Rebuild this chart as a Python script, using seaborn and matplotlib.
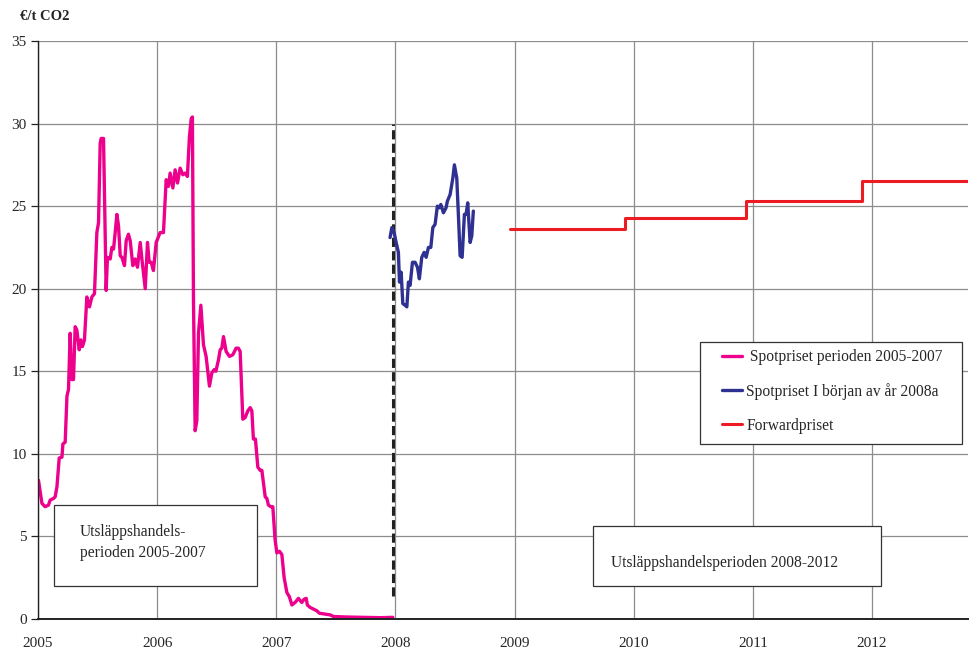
import matplotlib
matplotlib.use("Agg")
import matplotlib.pyplot as plt
from matplotlib.patches import Rectangle
import pandas as pd
import seaborn as sns

# Spot price 2005-2007 (decimal year, EUR/t)
pink_t = [2005.004, 2005.033, 2005.060, 2005.088, 2005.102, 2005.130, 2005.144, 2005.159,
          2005.178, 2005.201, 2005.209, 2005.228, 2005.243, 2005.256, 2005.270, 2005.284,
          2005.298, 2005.312, 2005.326, 2005.346, 2005.360, 2005.373, 2005.390, 2005.410,
          2005.432, 2005.452, 2005.474, 2005.494, 2005.508, 2005.522, 2005.530, 2005.550,
          2005.572, 2005.583, 2005.606, 2005.620, 2005.634, 2005.648, 2005.662, 2005.676,
          2005.690, 2005.704, 2005.726, 2005.740, 2005.759, 2005.774, 2005.796, 2005.816,
          2005.835, 2005.858, 2005.872, 2005.900, 2005.919, 2005.933, 2005.950, 2005.969,
          2005.992, 2006.025, 2006.053, 2006.076, 2006.095, 2006.109, 2006.132, 2006.151,
          2006.171, 2006.193, 2006.216, 2006.235, 2006.254, 2006.271, 2006.286, 2006.296,
          2006.305, 2006.319, 2006.333, 2006.347, 2006.367, 2006.389, 2006.411, 2006.439,
          2006.459, 2006.479, 2006.493, 2006.515, 2006.529, 2006.543, 2006.557, 2006.579,
          2006.607, 2006.635, 2006.663, 2006.682, 2006.697, 2006.719, 2006.739, 2006.761,
          2006.781, 2006.795, 2006.808, 2006.825, 2006.845, 2006.865, 2006.879, 2006.907,
          2006.921, 2006.934, 2006.954, 2006.971, 2006.990, 2007.005, 2007.027, 2007.047,
          2007.066, 2007.089, 2007.110, 2007.131, 2007.158, 2007.186, 2007.214, 2007.234,
          2007.251, 2007.261, 2007.284, 2007.312, 2007.340, 2007.362, 2007.410, 2007.452,
          2007.480, 2007.592, 2007.731, 2007.872, 2007.978]
pink_v = [8.4, 7.0, 6.8, 6.9, 7.2, 7.3, 7.4, 8.0,
          9.75, 9.8, 10.6, 10.7, 13.5, 13.9, 17.3, 14.5,
          14.5, 17.7, 17.5, 16.3, 16.9, 16.5, 16.9, 19.5,
          18.9, 19.5, 19.7, 23.4, 24.0, 28.8, 29.1, 29.1,
          19.9, 21.9, 21.8, 22.5, 22.4, 23.4, 24.5, 23.8,
          22.0, 21.9, 21.4, 22.9, 23.3, 22.9, 21.4, 21.8,
          21.3, 22.8, 21.8, 20.0, 22.8, 21.6, 21.6, 21.1,
          22.8, 23.4, 23.4, 26.6, 26.2, 27.0, 26.1, 27.2,
          26.4, 27.3, 26.9, 27.0, 26.8, 29.2, 30.3, 30.4,
          19.3, 11.4, 12.0, 17.3, 19.0, 16.6, 15.9, 14.1,
          14.9, 15.1, 15.0, 15.7, 16.3, 16.4, 17.1, 16.2,
          15.9, 16.0, 16.4, 16.4, 16.2, 12.1, 12.2, 12.6,
          12.8, 12.6, 10.9, 10.9, 9.2, 9.0, 9.0, 7.4,
          7.3, 6.9, 6.8, 6.8, 4.8, 4.0, 4.1, 3.9,
          2.5, 1.6, 1.35, 0.85, 1.0, 1.25, 1.0, 1.2,
          1.25, 0.85, 0.7, 0.6, 0.5, 0.35, 0.3, 0.25,
          0.15, 0.12, 0.1, 0.08, 0.1]

# Spot price early 2008
blue_t = [2007.955, 2007.970, 2007.989, 2008.006, 2008.025, 2008.034, 2008.048, 2008.062,
          2008.081, 2008.096, 2008.109, 2008.123, 2008.143, 2008.165, 2008.185, 2008.201,
          2008.221, 2008.241, 2008.258, 2008.277, 2008.297, 2008.314, 2008.333, 2008.352,
          2008.369, 2008.381, 2008.403, 2008.425, 2008.436, 2008.459, 2008.482, 2008.495,
          2008.515, 2008.529, 2008.543, 2008.560, 2008.579, 2008.593, 2008.607, 2008.627,
          2008.641, 2008.654]
blue_v = [23.1, 23.7, 23.4, 22.8, 22.2, 20.4, 21.0, 19.1,
          19.0, 18.9, 20.4, 20.2, 21.6, 21.6, 21.3, 20.6,
          21.9, 22.2, 21.9, 22.5, 22.5, 23.7, 23.9, 25.0,
          24.9, 25.1, 24.6, 24.9, 25.3, 25.7, 26.7, 27.5,
          26.7, 24.4, 22.0, 21.9, 24.5, 24.5, 25.2, 22.8,
          23.2, 24.7]

# Forward price (steps)
red_t = [2008.962, 2009.927, 2010.943, 2011.916, 2012.806]
red_v = [23.6, 24.3, 25.3, 26.5, 26.5]

# Period divider
divider_t = [2007.98, 2007.98]
divider_v = [1.4, 30.0]

years = [2005, 2006, 2007, 2008, 2009, 2010, 2011, 2012]
y_ticks = [0, 5, 10, 15, 20, 25, 30, 35]

labels = [" Spotpriset perioden 2005-2007", "Spotpriset I början av år 2008a", "Forwardpriset"]
colors = ["#EC008C", "#2E3192", "#ED1C24"]

sns.set_style("white")
plt.rcParams["font.family"] = ["Liberation Serif", "DejaVu Serif"]

fig = plt.figure(figsize=(9.69, 6.52), dpi=100)
ax = fig.add_axes([38 / 969, 1 - 619 / 652, 930 / 969, 578 / 652])

pink = pd.DataFrame({"t": pink_t, "v": pink_v})
blue = pd.DataFrame({"t": blue_t, "v": blue_v})
red = pd.DataFrame({"t": red_t, "v": red_v})

sns.lineplot(data=pink, x="t", y="v", ax=ax, color=colors[0], lw=2.4,
             estimator=None, sort=False, label=labels[0])
sns.lineplot(data=blue, x="t", y="v", ax=ax, color=colors[1], lw=2.4,
             estimator=None, sort=False, label=labels[1])
sns.lineplot(data=red, x="t", y="v", ax=ax, color=colors[2], lw=2.2,
             estimator=None, sort=False, drawstyle="steps-post", label=labels[2])
ax.plot(divider_t, divider_v, color="#222222", lw=2.2, ls=(0, (3.0, 1.4)), zorder=1)

ax.set_xlim(2005, 2012.806)
ax.set_ylim(0, 35)
ax.set_xticks(years)
ax.set_xticklabels([str(y) for y in years])
ax.set_yticks(y_ticks)
ax.set_xlabel("")
ax.set_ylabel("")
ax.grid(True, color="#8c8c8c", lw=0.9)
ax.set_axisbelow(True)
for s in ["top", "right"]:
    ax.spines[s].set_visible(False)
ax.spines["left"].set_color("#222222")
ax.spines["bottom"].set_color("#222222")
ax.spines["left"].set_linewidth(1.0)
ax.spines["bottom"].set_linewidth(1.4)
ax.tick_params(axis="x", length=0, pad=13, labelsize=11)
ax.tick_params(axis="y", length=5, width=0.9, color="#222222", pad=3, labelsize=11, left=True)

# legend frame drawn separately so the padding can match
ax.add_patch(Rectangle((662 / 930, 175 / 578), 262 / 930, 102 / 578, transform=ax.transAxes,
                       facecolor="white", edgecolor="#333333", lw=0.9, zorder=3))
leg = ax.legend(loc="upper left", bbox_to_anchor=(684 / 930, (619 - 349) / 578),
                fontsize=11.2, frameon=False,
                handlelength=1.3, handletextpad=0.25, labelspacing=1.15,
                borderpad=0, borderaxespad=0)
leg.set_zorder(4)

# Period text boxes
ax.add_patch(Rectangle((16 / 930, 33 / 578), 203 / 930, 81 / 578, transform=ax.transAxes,
                       facecolor="white", edgecolor="#333333", lw=0.9, zorder=3))
ax.text(42 / 930, 0.1325, "Utsläppshandels-\nperioden 2005-2007", transform=ax.transAxes,
        ha="left", va="center", fontsize=11.2, linespacing=1.45, zorder=4)
ax.add_patch(Rectangle((555 / 930, 33 / 578), 288 / 930, 60 / 578, transform=ax.transAxes,
                       facecolor="white", edgecolor="#333333", lw=0.9, zorder=3))
ax.text(573 / 930, 0.0965, "Utsläppshandelsperioden 2008-2012", transform=ax.transAxes,
        ha="left", va="center", fontsize=11.2, zorder=4)

fig.text(20 / 969, 1 - 16 / 652, "€/t CO2", ha="left", va="center",
         fontsize=10.5, fontweight="bold")

fig.savefig("out.png", dpi=100)
